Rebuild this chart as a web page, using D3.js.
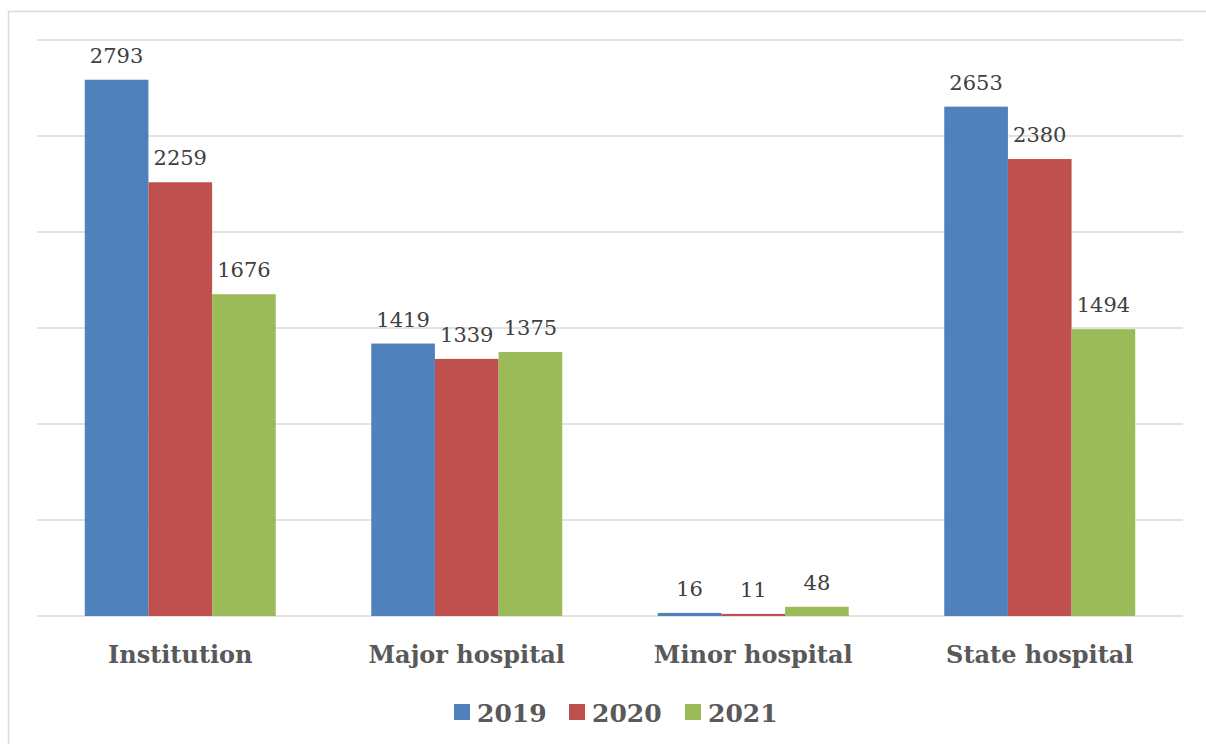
<!DOCTYPE html>
<html>
<head>
<meta charset="utf-8">
<script src="https://cdn.jsdelivr.net/npm/d3@7"></script>
<style>
  body { margin: 0; background: #fff; }
  .value-label { font-family: "DejaVu Serif", serif; font-size: 21px; fill: #404040; }
  .cat-label { font-family: "DejaVu Serif", serif; font-size: 24px; font-weight: bold; fill: #595959; }
  .legend-style { font-family: "DejaVu Serif", serif; font-size: 25px; font-weight: bold; fill: #595959; }
</style>
</head>
<body>
<svg id="chart" width="1206" height="744"></svg>
<script>
const categories = ["Institution", "Major hospital", "Minor hospital", "State hospital"];
const years = ["2019", "2020", "2021"];
const values2019 = [2793, 1419, 16, 2653];
const values2020 = [2259, 1339, 11, 2380];
const values2021 = [1676, 1375, 48, 1494];
const yTicks = [0, 500, 1000, 1500, 2000, 2500, 3000];
const colors = ["#4f81bd", "#c0504d", "#9bbb59"];

function drawGroupedBarChart(graphId) {
    let _width = +document.getElementById(graphId).getAttribute("width"),
        _height = +document.getElementById(graphId).getAttribute("height"),
        margin = { top: 40, right: 23, bottom: 128, left: 37 },
        width = _width - margin.left - margin.right,
        height = _height - margin.top - margin.bottom;

    let root = d3.select('#' + graphId);

    // outer frame
    root.append('rect')
        .attr('x', 8.5)
        .attr('y', 11.5)
        .attr('width', 1210)
        .attr('height', 760)
        .attr('fill', 'none')
        .attr('stroke', '#d9d9d9')
        .attr('stroke-width', 1.5);

    let svg = root.append('g')
        .attr('transform', 'translate(' + margin.left + ',' + margin.top + ')');

    let series = [values2019, values2020, values2021];
    let data = categories.map((c, i) => ({
        category: c,
        values: years.map((y, j) => ({ year: y, value: series[j][i], idx: j }))
    }));

    let x0 = d3.scaleBand()
        .domain(categories)
        .range([0, width])
        .padding(0);

    let x1 = d3.scaleBand()
        .domain(years)
        .range([x0.bandwidth() * 0.1667, x0.bandwidth() * 0.8333])
        .padding(0);

    let yScale = d3.scaleLinear()
        .domain([0, 3000])
        .range([height, 0]);

    // gridlines
    svg.append('g')
        .selectAll('line')
        .data(yTicks)
        .enter()
        .append('line')
        .attr('x1', 0)
        .attr('x2', width)
        .attr('y1', d => yScale(d))
        .attr('y2', d => yScale(d))
        .attr('stroke', '#d9d9d9')
        .attr('stroke-width', 1.5);

    let groups = svg.append('g')
        .selectAll('g')
        .data(data)
        .enter()
        .append('g')
        .attr('transform', d => 'translate(' + x0(d.category) + ',0)');

    groups.selectAll('rect')
        .data(d => d.values)
        .enter()
        .append('rect')
        .attr('x', d => x1(d.year))
        .attr('y', d => yScale(d.value))
        .attr('width', x1.bandwidth())
        .attr('height', d => height - yScale(d.value))
        .attr('fill', d => colors[d.idx]);

    // value labels above bars
    groups.selectAll('text')
        .data(d => d.values)
        .enter()
        .append('text')
        .attr('class', 'value-label')
        .attr('x', d => x1(d.year) + x1.bandwidth() / 2)
        .attr('y', d => yScale(d.value) - 17)
        .attr('text-anchor', 'middle')
        .text(d => d.value);

    // category axis labels
    svg.append('g')
        .selectAll('text')
        .data(categories)
        .enter()
        .append('text')
        .attr('class', 'cat-label')
        .attr('x', d => x0(d) + x0.bandwidth() / 2)
        .attr('y', height + 47)
        .attr('text-anchor', 'middle')
        .text(d => d);

    // legends
    let legendX = [454, 569, 685];
    let legend = root.append('g');

    legend.selectAll('rect')
        .data(years)
        .enter()
        .append('rect')
        .attr('x', (d, i) => legendX[i])
        .attr('y', 704)
        .attr('width', 16)
        .attr('height', 16)
        .attr('fill', (d, i) => colors[i]);

    legend.selectAll('text')
        .data(years)
        .enter()
        .append('text')
        .attr('class', 'legend-style')
        .attr('x', (d, i) => legendX[i] + 23)
        .attr('y', 722)
        .text(d => d);
}

drawGroupedBarChart('chart');
</script>
</body>
</html>
